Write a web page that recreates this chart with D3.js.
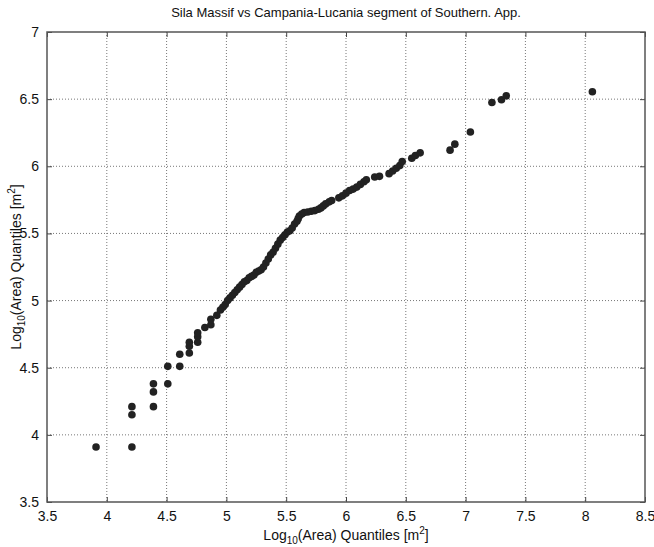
<!DOCTYPE html>
<html>
<head>
<meta charset="utf-8">
<script src="https://d3js.org/d3.v7.min.js"></script>
<style>
  body { margin: 0; background: #fff; }
  text { font-family: "Liberation Sans", Arial, sans-serif; fill: #111; }
  .grid line { stroke: #777; stroke-width: 1px; stroke-dasharray: 1,2; }
  .axis path { display: none; }
  .axis line { stroke: #444; stroke-width: 1px; }
</style>
</head>
<body>
<div id="chart-area"></div>
<script>
  // Quantile pairs (sorted ascending)
  var xQuant = [3.91, 4.21, 4.21, 4.21, 4.39, 4.39, 4.39, 4.51, 4.51, 4.61, 4.61,
                4.69, 4.69, 4.69, 4.76, 4.76, 4.76, 4.82, 4.87, 4.87, 4.92, 4.95,
                4.97, 4.99, 5.01, 5.03, 5.05, 5.07, 5.09, 5.11, 5.13, 5.15, 5.17,
                5.19, 5.21, 5.23, 5.25, 5.27, 5.29, 5.31, 5.33, 5.35, 5.37, 5.39,
                5.41, 5.43, 5.45, 5.47, 5.49, 5.51, 5.53, 5.55, 5.57, 5.59, 5.60,
                5.61, 5.63, 5.65, 5.68, 5.71, 5.74, 5.77, 5.79, 5.81, 5.83, 5.86,
                5.88, 5.94, 5.97, 6.00, 6.03, 6.06, 6.09, 6.12, 6.15, 6.17, 6.24,
                6.28, 6.36, 6.39, 6.42, 6.45, 6.47, 6.55, 6.58, 6.62, 6.87, 6.91,
                7.04, 7.22, 7.30, 7.34, 8.06];
  var yQuant = [3.91, 3.91, 4.15, 4.21, 4.21, 4.32, 4.38, 4.38, 4.51, 4.51, 4.60,
                4.61, 4.66, 4.69, 4.69, 4.73, 4.76, 4.80, 4.82, 4.86, 4.89, 4.93,
                4.95, 4.97, 5.00, 5.02, 5.04, 5.06, 5.08, 5.10, 5.12, 5.14, 5.15,
                5.17, 5.18, 5.19, 5.21, 5.22, 5.23, 5.25, 5.28, 5.31, 5.34, 5.36,
                5.39, 5.42, 5.45, 5.47, 5.49, 5.51, 5.52, 5.54, 5.57, 5.59, 5.61,
                5.63, 5.645, 5.655, 5.66, 5.665, 5.67, 5.68, 5.69, 5.705, 5.72, 5.735,
                5.745, 5.765, 5.78, 5.80, 5.82, 5.83, 5.845, 5.865, 5.885, 5.90, 5.92,
                5.925, 5.945, 5.965, 5.985, 6.005, 6.035, 6.06, 6.08, 6.10, 6.12, 6.165,
                6.255, 6.475, 6.495, 6.525, 6.555];
  var xTicks = [3.5, 4, 4.5, 5, 5.5, 6, 6.5, 7, 7.5, 8, 8.5];
  var yTicks = [3.5, 4, 4.5, 5, 5.5, 6, 6.5, 7];

  var margin = {left: 47, right: 9, top: 32, bottom: 45};
  var width = 654 - margin.left - margin.right,
      height = 547 - margin.top - margin.bottom;

  var svg = d3.select('#chart-area')
              .append('svg')
              .attr('width', 654)
              .attr('height', 547);
  var g = svg.append('g')
             .attr('transform', 'translate(' + margin.left + ',' + margin.top + ')');

  var x = d3.scaleLinear().domain([3.5, 8.5]).range([0, width]);
  var y = d3.scaleLinear().domain([3.5, 7]).range([height, 0]);

  // Dotted grid
  g.append('g').attr('class', 'grid')
    .selectAll('line').data(xTicks.slice(1, -1)).enter().append('line')
    .attr('x1', function(d) { return x(d); }).attr('x2', function(d) { return x(d); })
    .attr('y1', 0).attr('y2', height);
  g.append('g').attr('class', 'grid')
    .selectAll('line').data(yTicks.slice(1, -1)).enter().append('line')
    .attr('y1', function(d) { return y(d); }).attr('y2', function(d) { return y(d); })
    .attr('x1', 0).attr('x2', width);

  // Axes, ticks pointing inward on all four sides
  var fmt = function(d) { return d3.format('')(d); };
  g.append('g').attr('class', 'axis')
    .attr('transform', 'translate(0,' + height + ')')
    .call(d3.axisBottom(x).tickValues(xTicks).tickSize(-5).tickPadding(9).tickFormat(fmt))
    .selectAll('text').attr('font-size', '14px');
  g.append('g').attr('class', 'axis')
    .call(d3.axisTop(x).tickValues(xTicks).tickSize(-5).tickFormat(''));
  g.append('g').attr('class', 'axis')
    .call(d3.axisLeft(y).tickValues(yTicks).tickSize(-5).tickPadding(8).tickFormat(fmt))
    .selectAll('text').attr('font-size', '14px');
  g.append('g').attr('class', 'axis')
    .attr('transform', 'translate(' + width + ',0)')
    .call(d3.axisRight(y).tickValues(yTicks).tickSize(-5).tickFormat(''));
  g.selectAll('.axis text').style('font-family', '"Liberation Sans", Arial, sans-serif').attr('fill', '#111');

  // Box
  g.append('rect')
    .attr('width', width).attr('height', height)
    .attr('fill', 'none').attr('stroke', '#555').attr('stroke-width', 1.5);

  // Points
  g.append('g').selectAll('circle')
    .data(d3.range(xQuant.length)).enter().append('circle')
    .attr('cx', function(i) { return x(xQuant[i]); })
    .attr('cy', function(i) { return y(yQuant[i]); })
    .attr('r', 3.8)
    .attr('fill', '#222');

  // Title
  svg.append('text')
    .attr('x', margin.left + width / 2).attr('y', 17)
    .attr('text-anchor', 'middle').attr('font-size', '13px')
    .text('Sila Massif vs Campania-Lucania segment of Southern. App.');

  // X label
  var xl = svg.append('text')
    .attr('x', margin.left + width / 2).attr('y', 540)
    .attr('text-anchor', 'middle').attr('font-size', '14px');
  xl.append('tspan').text('Log');
  xl.append('tspan').attr('font-size', '10px').attr('dy', 4).text('10');
  xl.append('tspan').attr('dy', -4).text('(Area) Quantiles [m');
  xl.append('tspan').attr('font-size', '10px').attr('dy', -6).text('2');
  xl.append('tspan').attr('dy', 6).text(']');

  // Y label
  var yl = svg.append('text')
    .attr('transform', 'translate(21,' + (margin.top + height / 2) + ') rotate(-90)')
    .attr('text-anchor', 'middle').attr('font-size', '14px');
  yl.append('tspan').text('Log');
  yl.append('tspan').attr('font-size', '10px').attr('dy', 4).text('10');
  yl.append('tspan').attr('dy', -4).text('(Area) Quantiles [m');
  yl.append('tspan').attr('font-size', '10px').attr('dy', -6).text('2');
  yl.append('tspan').attr('dy', 6).text(']');
</script>
</body>
</html>
